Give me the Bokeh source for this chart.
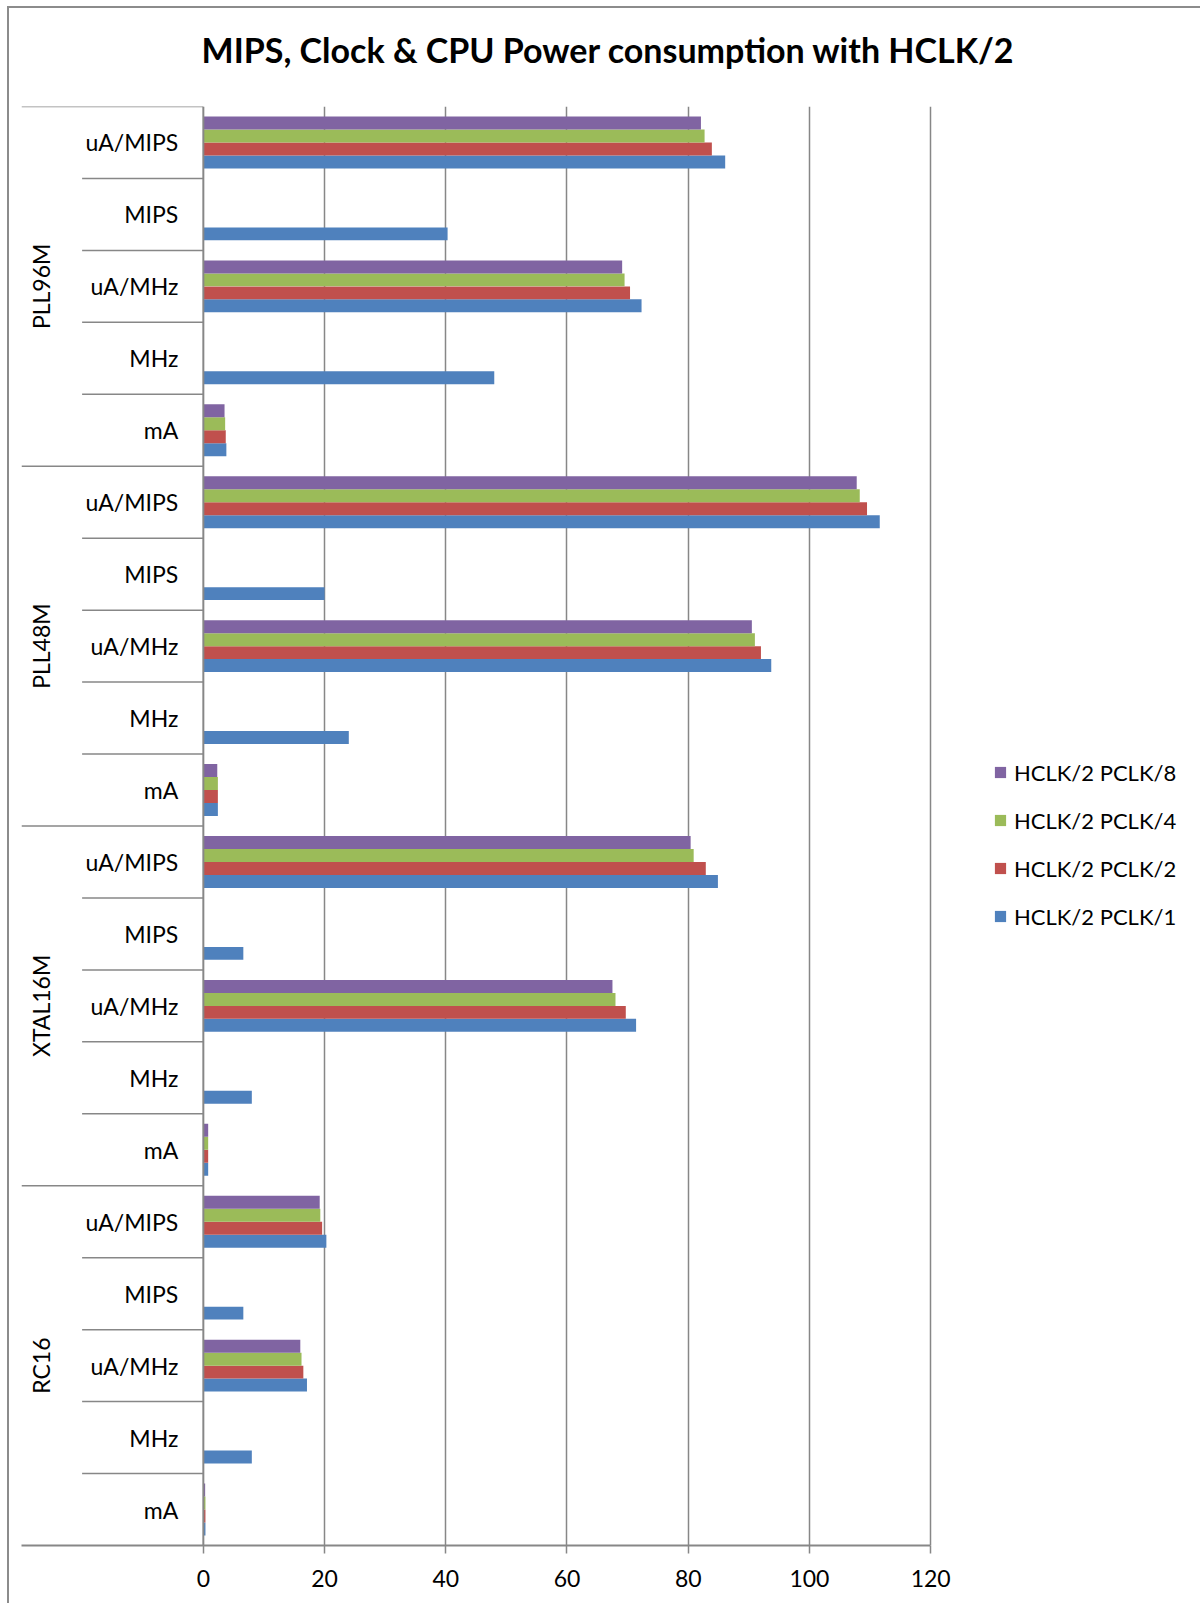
from bokeh.plotting import figure
from bokeh.models import (ColumnDataSource, FactorRange, Range1d, FixedTicker, Span,
                          Legend, LegendItem, Title)
from bokeh.transform import dodge
from bokeh.core.properties import value
from bokeh.embed import file_html
from bokeh.resources import INLINE
import math

nan = float("nan")

# ---------------- data (top to bottom as shown) ----------------
groups = ["PLL96M", "PLL48M", "XTAL16M", "RC16"]
metrics = ["uA/MIPS", "MIPS", "uA/MHz", "MHz", "mA"]

series_names = ["HCLK/2 PCLK/1", "HCLK/2 PCLK/2", "HCLK/2 PCLK/4", "HCLK/2 PCLK/8"]
series_colors = ["#4F81BD", "#C0504D", "#9BBB59", "#8064A2"]

pclk1 = [86.1, 40.3, 72.3, 48.0, 3.8,
         111.6, 20.0, 93.7, 24.0, 2.4,
         84.9, 6.6, 71.4, 8.0, 0.8,
         20.3, 6.6, 17.1, 8.0, 0.35]
pclk2 = [83.9, nan, 70.4, nan, 3.7,
         109.5, nan, 92.0, nan, 2.4,
         82.9, nan, 69.7, nan, 0.8,
         19.6, nan, 16.5, nan, 0.35]
pclk4 = [82.7, nan, 69.5, nan, 3.6,
         108.3, nan, 91.0, nan, 2.4,
         80.9, nan, 68.0, nan, 0.8,
         19.3, nan, 16.2, nan, 0.35]
pclk8 = [82.1, nan, 69.1, nan, 3.5,
         107.8, nan, 90.5, nan, 2.3,
         80.4, nan, 67.5, nan, 0.8,
         19.2, nan, 16.0, nan, 0.3]

x_ticks = [0, 20, 40, 60, 80, 100, 120]
title_text = "MIPS, Clock & CPU Power consumption with HCLK/2"

# ---------------- sources ----------------
cats = [(g, m) for g in groups for m in metrics]
src = ColumnDataSource(dict(cat=cats, v1=pclk1, v2=pclk2, v4=pclk4, v8=pclk8,
                            label=[m for g in groups for m in metrics]))
sep_x0 = [-30 if m == metrics[0] else -20 for g in groups for m in metrics]
sep_src = ColumnDataSource(dict(cat=cats, x0=sep_x0, x1=[0] * len(cats)))
grp_src = ColumnDataSource(dict(cat=[(g, metrics[2]) for g in groups], label=groups,
                                x=[0] * len(groups)))

factors = [(g, m) for g in reversed(groups) for m in reversed(metrics)]
y_range = FactorRange(*factors, factor_padding=0, group_padding=0, range_padding=0)

FONT = "Lato"
GREY = "#878787"

# frame spans from the category label area to the right edge (legend lives inside it)
p = figure(width=1193, height=1597, y_range=y_range, x_range=Range1d(-30, 164.85),
           output_backend="svg", toolbar_location=None, y_axis_location=None,
           title=None,
           min_border_left=12, min_border_right=0, min_border_top=98,
           min_border_bottom=60)
p.styles = {"margin-left": "7px", "margin-top": "6px",
            "border-left": "2px solid #8c8c8c", "border-top": "2px solid #8c8c8c"}

# small spacer between the frame and the title
p.add_layout(Title(text=" ", text_font_size="1px", standoff=14), "above")
p.add_layout(Title(text=title_text, align="left", offset=180, vertical_align="top",
                   text_font=FONT, text_font_style="bold", text_font_size="34px",
                   text_color="#000000", standoff=35), "above")

p.outline_line_color = None
p.ygrid.visible = False
p.xgrid.ticker = FixedTicker(ticks=x_ticks[1:])
p.xgrid.grid_line_color = GREY
p.xgrid.grid_line_width = 1.5

ax = p.xaxis[0]
ax.ticker = FixedTicker(ticks=x_ticks)
ax.bounds = (-30, x_ticks[-1])
ax.axis_line_color = GREY
ax.axis_line_width = 2
ax.major_tick_line_color = GREY
ax.major_tick_line_width = 1.5
ax.major_tick_out = 8
ax.major_tick_in = 0
ax.minor_tick_line_color = None
ax.major_label_text_font = FONT
ax.major_label_text_font_size = "23px"
ax.major_label_text_color = "#000000"
ax.major_label_standoff = 16

# value axis line at zero
p.add_layout(Span(location=0, dimension="height", line_color=GREY, line_width=2))

# category separators
p.segment(x0="x0", x1="x1", y0=dodge("cat", 0.5, range=y_range),
          y1=dodge("cat", 0.5, range=y_range), source=sep_src,
          line_color=GREY, line_width=1.5)

# bars
bar_h = 0.18
cols = ["v1", "v2", "v4", "v8"]
renderers = []
for i, (c, col) in enumerate(zip(cols, series_colors)):
    off = (i - 1.5) * bar_h
    r = p.hbar(y=dodge("cat", off, range=y_range), left=0, right=c, height=bar_h,
               source=src, fill_color=col, line_color=None)
    renderers.append(r)

# category labels
p.text(x=0, y="cat", text="label", source=src, x_offset=-25,
       text_align="right", text_baseline="middle", text_font=value(FONT),
       text_font_size="23px", text_color="#000000")
p.text(x="x", y="cat", text="label", source=grp_src, x_offset=-162,
       angle=math.pi / 2, text_align="center", text_baseline="middle",
       text_font=value(FONT), text_font_size="23px", text_color="#000000")

items = [LegendItem(label=series_names[i], renderers=[renderers[i]]) for i in [3, 2, 1, 0]]
legend = Legend(items=items, location=(972, 614), padding=0, margin=0,
                border_line_color=None, background_fill_alpha=0,
                glyph_width=14, glyph_height=14, label_height=30, spacing=18,
                label_standoff=7, label_text_font=FONT, label_text_font_size="22px",
                label_text_color="#000000")
p.add_layout(legend)

open("out.html", "w").write(file_html(p, INLINE))
